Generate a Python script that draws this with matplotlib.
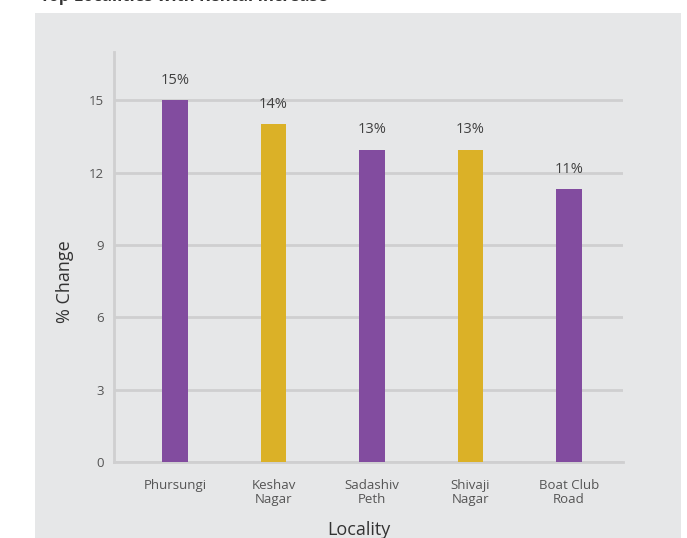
import matplotlib.pyplot as plt
from matplotlib.patches import Rectangle

# data
localities = ["Phursungi", "Keshav\nNagar", "Sadashiv\nPeth", "Shivaji\nNagar", "Boat Club\nRoad"]
pct_change = [15.0, 14.0, 12.95, 12.95, 11.3]
bar_labels = ["15%", "14%", "13%", "13%", "11%"]
bar_colors = ["#824C9F", "#DBB127", "#824C9F", "#DBB127", "#824C9F"]
y_ticks = [0, 3, 6, 9, 12, 15]

plt.rcParams["font.family"] = ["Open Sans", "DejaVu Sans"]

W, H = 687, 538
fig = plt.figure(figsize=(W / 100, H / 100), dpi=100)
fig.patch.set_facecolor("white")

# grey panel behind the chart
panel = Rectangle((35 / W, 0), (681 - 35) / W, (538 - 13) / H,
                  transform=fig.transFigure, facecolor="#E6E7E8",
                  edgecolor="none", zorder=-10)
fig.patches.append(panel)

# title cut off at the top of the image
fig.text(40 / W, 1 - 1.0 / H, "Top Localities with Rental Increase", ha="left", va="baseline",
         fontsize=12, fontweight="bold", color="#333333")

# axes box in pixels: left 114, right 623, top 52, bottom 462
ax = fig.add_axes([114 / W, (H - 462) / H, (623 - 114) / W, (462 - 52) / H])
ax.set_facecolor("none")

x = list(range(len(localities)))
ax.bar(x, pct_change, width=0.26, color=bar_colors, zorder=3)

for xi, v, lab in zip(x, pct_change, bar_labels):
    ax.text(xi, v + 0.52, lab, ha="center", va="bottom", fontsize=10.5,
            color="#404040")

ax.set_xlim(-0.62, 4.55)
ax.set_ylim(0, 17)
ax.set_yticks(y_ticks)
ax.set_xticks(x)
ax.set_xticklabels(localities, fontsize=9.5, color="#555555", linespacing=1.15)
ax.tick_params(axis="y", labelsize=9.5, labelcolor="#555555", length=0, pad=7)
ax.tick_params(axis="x", length=0, pad=12)

ax.grid(axis="y", color="#CFCFD0", linewidth=2, zorder=1)
ax.set_axisbelow(True)

for side in ["top", "right"]:
    ax.spines[side].set_visible(False)
for side in ["left", "bottom"]:
    ax.spines[side].set_color("#CFCFD0")
    ax.spines[side].set_linewidth(2)

ax.set_ylabel("% Change", fontsize=13, color="#333333")
ax.yaxis.set_label_coords(-0.096, 0.44)
ax.yaxis.label.set_va("center")

ax.set_xlabel("Locality", fontsize=13, color="#333333")
ax.xaxis.set_label_coords(0.481, -0.178)
ax.xaxis.label.set_va("baseline")

fig.savefig("out.png", dpi=100)
